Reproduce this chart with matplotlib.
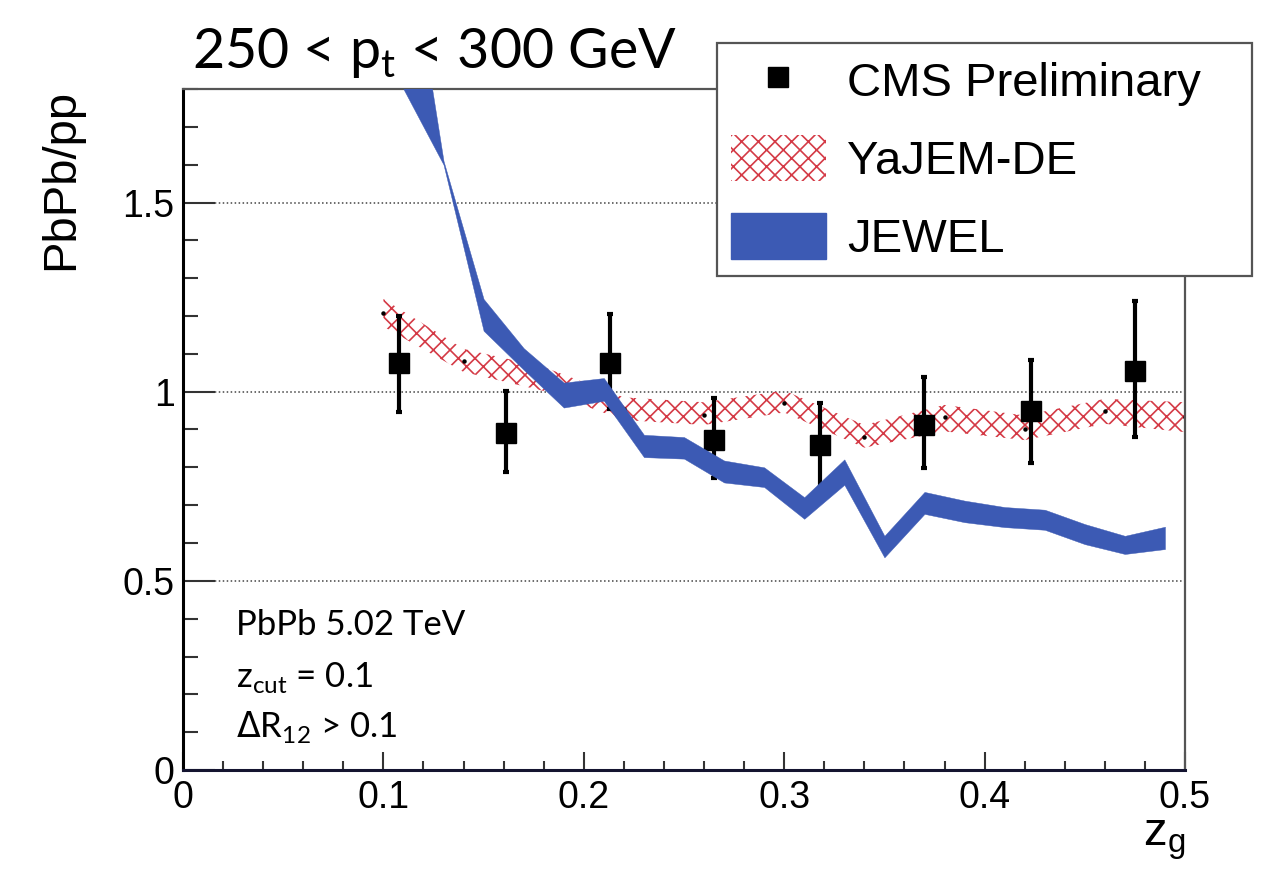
import matplotlib
matplotlib.use('Agg')
import matplotlib.pyplot as plt
from matplotlib.lines import Line2D
from matplotlib.patches import Patch
from matplotlib.ticker import MultipleLocator, FuncFormatter

# ---------------- data ----------------
cms_x = [0.108, 0.161, 0.213, 0.265, 0.318, 0.370, 0.423, 0.475]
cms_y = [1.075, 0.892, 1.075, 0.873, 0.858, 0.913, 0.948, 1.055]
cms_err_up = [0.125, 0.111, 0.130, 0.109, 0.113, 0.125, 0.135, 0.184]
cms_err_dn = [0.128, 0.105, 0.120, 0.101, 0.113, 0.115, 0.137, 0.176]

yajem_x = [0.10, 0.14, 0.18, 0.22, 0.26, 0.30, 0.34, 0.38, 0.42, 0.46, 0.50]
yajem_c = [1.209, 1.082, 1.035, 0.955, 0.939, 0.971, 0.881, 0.932, 0.901, 0.948, 0.932]
yajem_up = [1.245, 1.113, 1.065, 0.985, 0.972, 1.003, 0.912, 0.965, 0.937, 0.981, 0.972]
yajem_lo = [1.172, 1.052, 1.002, 0.925, 0.912, 0.945, 0.852, 0.895, 0.872, 0.915, 0.893]

jewel_x = [0.11, 0.13, 0.15, 0.17, 0.19, 0.21, 0.23, 0.25, 0.27, 0.29,
           0.31, 0.33, 0.35, 0.37, 0.39, 0.41, 0.43, 0.45, 0.47, 0.49]
jewel_up = [2.28, 1.61, 1.245, 1.115, 1.024, 1.036, 0.886, 0.880, 0.818, 0.800,
            0.721, 0.821, 0.619, 0.735, 0.712, 0.695, 0.688, 0.650, 0.619, 0.643]
jewel_lo = [1.80, 1.60, 1.161, 1.058, 0.958, 0.976, 0.827, 0.823, 0.760, 0.748,
            0.664, 0.754, 0.562, 0.677, 0.655, 0.642, 0.635, 0.597, 0.571, 0.584]

x_ticks = [0, 0.1, 0.2, 0.3, 0.4, 0.5]
y_ticks = [0, 0.5, 1.0, 1.5]

title_text = '250 < p$_\\mathregular{t}$ < 300 GeV'
info_lines = ['PbPb 5.02 TeV', 'z$_\\mathregular{cut}$ = 0.1', '$\\Delta$R$_\\mathregular{12}$ > 0.1']
legend_labels = ['CMS Preliminary', 'YaJEM-DE', 'JEWEL']

# ---------------- style ----------------
BLUE = '#3c5ab4'
RED = '#d43a46'
SANS = 'Liberation Sans'
CAL = 'Lato'
plt.rcParams['hatch.linewidth'] = 1.2

fig = plt.figure(figsize=(12.63, 8.8), dpi=100)
ax = fig.add_axes([183/1263, 1-770/880, (1185-183)/1263, (770-89)/880])

ax.set_xlim(0, 0.5)
ax.set_ylim(0, 1.8)

# grid
for yv in y_ticks[1:]:
    ax.axhline(yv, color='#444444', lw=1.1, ls=(0, (1, 1.6)), zorder=0.5)

# YaJEM hatched band
ax.fill_between(yajem_x, yajem_lo, yajem_up, facecolor='none', edgecolor=RED,
                hatch='xx', linewidth=0, zorder=1.5)
ax.plot(yajem_x, yajem_c, ls='none', marker='o', ms=2.2, color='black', zorder=1.6)

# CMS points
ax.errorbar(cms_x, cms_y, yerr=[cms_err_dn, cms_err_up], fmt='s', color='black',
            ms=14.5, elinewidth=3.0, capsize=2.2, capthick=3.0, zorder=2)

# JEWEL band
ax.fill_between(jewel_x, jewel_lo, jewel_up, facecolor=BLUE, edgecolor=BLUE,
                linewidth=0.3, zorder=3)

# ticks
ax.set_xticks(x_ticks)
ax.set_yticks(y_ticks)
ax.xaxis.set_minor_locator(MultipleLocator(0.02))
ax.yaxis.set_minor_locator(MultipleLocator(0.1))
fmt = FuncFormatter(lambda v, p: '%g' % round(v, 3))
ax.xaxis.set_major_formatter(fmt)
ax.yaxis.set_major_formatter(fmt)
ax.tick_params(axis='both', which='both', direction='in', top=False, right=False,
               colors='#333333', width=1.5, labelcolor='black')
ax.tick_params(axis='x', which='major', length=13, pad=7, labelsize=27)
ax.tick_params(axis='x', which='minor', length=6.5)
ax.tick_params(axis='y', which='major', length=23, pad=6, labelsize=27)
ax.tick_params(axis='y', which='minor', length=11)
for lab in ax.get_xticklabels() + ax.get_yticklabels():
    lab.set_family(SANS)

# spines
ax.spines['left'].set_linewidth(2.2)
ax.spines['left'].set_color('black')
ax.spines['bottom'].set_linewidth(2.2)
ax.spines['bottom'].set_color('#141430')
ax.spines['top'].set_linewidth(1.6)
ax.spines['top'].set_color('#555555')
ax.spines['right'].set_linewidth(1.6)
ax.spines['right'].set_color('#555555')

# axis labels
ax.set_ylabel('PbPb/pp', fontsize=34, family=SANS, loc='top')
ax.yaxis.set_label_coords(-0.10, 1.0)
ax.set_xlabel('z$_\\mathregular{g}$', fontsize=34, family=SANS, loc='right')
ax.xaxis.set_label_coords(1.0, -0.07)

# title
fig.text(192/1263, 1-68/880, title_text, fontsize=40, family=CAL, ha='left',
         va='baseline')

# info text
for i, t in enumerate(info_lines):
    ax.text(0.053, [0.198, 0.122, 0.0485][i], t, transform=ax.transAxes,
            fontsize=25, family=CAL, ha='left', va='baseline')

# legend
handles = [Line2D([], [], marker='s', color='black', ls='none', ms=15),
           Patch(facecolor='none', edgecolor=RED, hatch='xx', linewidth=0),
           Patch(facecolor=BLUE, edgecolor=BLUE)]
leg = ax.legend(handles, legend_labels, loc='upper left',
                bbox_to_anchor=(717/1263, 1-270/880, (1252-717)/1263, (270-43)/880),
                bbox_transform=fig.transFigure, mode='expand',
                prop={'family': SANS, 'size': 34}, frameon=True, fancybox=False,
                borderpad=0.3, handlelength=2.0, handleheight=1.1,
                handletextpad=0.45, labelspacing=0.62, borderaxespad=0)
leg.get_frame().set_edgecolor('#555555')
leg.get_frame().set_linewidth(1.6)
leg.get_frame().set_alpha(1)
leg.set_zorder(10)

fig.savefig('out.png', dpi=100)
